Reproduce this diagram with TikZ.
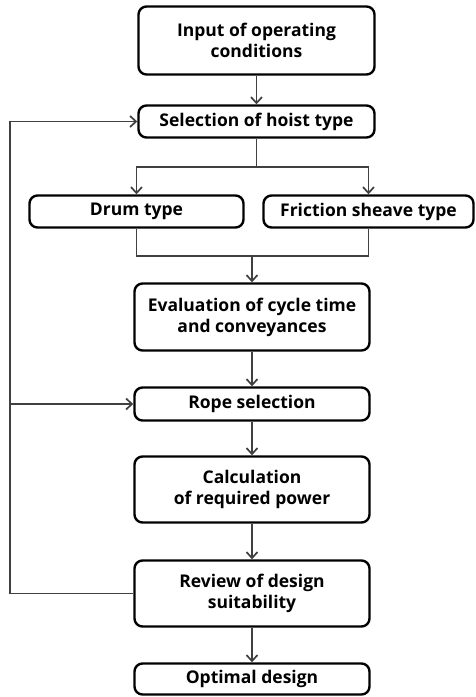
\documentclass[tikz,border=0pt]{standalone}
\usepackage{fontspec}
\setmainfont{Open Sans}
\usetikzlibrary{arrows.meta}
\begin{document}
\begin{tikzpicture}[x=1pt,y=-1pt,
  box/.style={draw=black, line width=2.4pt, rounded corners=8pt, align=center,
    font=\bfseries\fontsize{17.5}{21}\selectfont, inner sep=0pt},
  conn/.style={draw=black!75, line width=1.7pt},
  arr/.style={conn, -{Straight Barb[length=6pt,width=11pt,line width=1.7pt]}}]
\useasboundingbox (0,0) rectangle (476,697);
\node[box, minimum width=236pt, minimum height=68pt] (in) at (256.5,40.5) {Input of operating\\conditions};
\node[box, minimum width=236pt, minimum height=32pt] (sel) at (256.5,121.5) {Selection of hoist type};
\node[box, minimum width=214pt, minimum height=32pt] (drum) at (136.5,211.5) {Drum type};
\node[box, minimum width=210pt, minimum height=32pt] (fric) at (368.5,211.5) {Friction sheave type};
\node[box, minimum width=235pt, minimum height=67pt] (eval) at (252,317) {Evaluation of cycle time\\and conveyances};
\node[box, minimum width=235pt, minimum height=33pt] (rope) at (252,404) {Rope selection};
\node[box, minimum width=235pt, minimum height=66pt] (calc) at (252,489.5) {Calculation\\of required power};
\node[box, minimum width=235pt, minimum height=66pt] (rev) at (252,593.5) {Review of design\\suitability};
\node[box, minimum width=235pt, minimum height=31pt] (opt) at (252,679) {Optimal design};
\draw[arr] (in) -- (sel);
\coordinate (j1) at (256.5,167);
\draw[conn] (sel.south) -- (j1);
\draw[arr] (j1) -| (drum.north);
\draw[arr] (j1) -| (fric.north);
\coordinate (j2) at (252,256);
\draw[conn] (drum.south) |- (j2);
\draw[conn] (fric.south) |- (j2);
\draw[arr] (j2) -- (eval.north);
\draw[arr] (eval) -- (rope);
\draw[arr] (rope) -- (calc);
\draw[arr] (calc) -- (rev);
\draw[arr] (rev) -- (opt);
\coordinate (fbb) at (10,593.5);
\coordinate (fbt) at (10,121.5);
\coordinate (fbm) at (10,404);
\draw[arr] (rev.west) -- (fbb) -- (fbt) -- (sel.west);
\draw[arr] (fbm) -- (rope.west);
\end{tikzpicture}
\end{document}
